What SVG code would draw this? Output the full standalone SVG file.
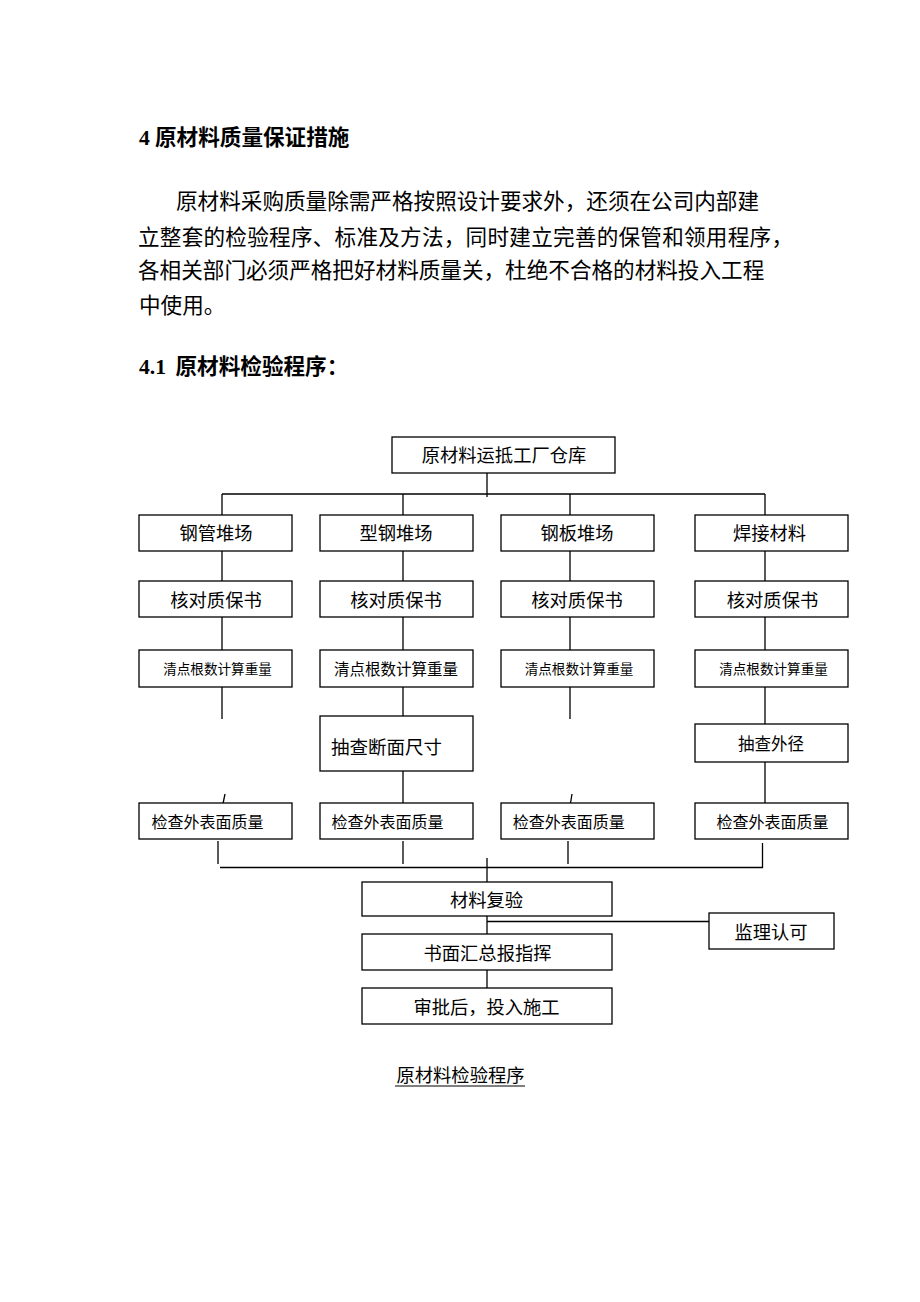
<svg xmlns="http://www.w3.org/2000/svg" width="920" height="1302" viewBox="0 0 920 1302">
<style>
  text { font-family: "Liberation Serif", "Noto Sans CJK SC", serif; fill: #000; }
  .cjk { font-family: "Noto Sans CJK SC", "Liberation Serif", serif; }
  .p { font-size: 21.6px; }
  .h { font-size: 21.6px; font-weight: 700; }
  .box { fill: #fff; stroke: #000; stroke-width: 1.3; }
  .t18 { font-size: 18.3px; text-anchor: middle; }
  .t16 { font-size: 16px; text-anchor: middle; }
  .t14 { font-size: 13.6px; text-anchor: middle; }
  .conn line { stroke: #000; stroke-width: 1.3; }
</style>
<rect width="920" height="1302" fill="#fff"/>

<g id="heading">
  <text class="h" x="139" y="144.5">4<tspan class="cjk" x="155">原材料质量保证措施</tspan></text>
</g>
<g id="paragraph">
  <text class="p cjk" x="176" y="209">原材料采购质量除需严格按照设计要求外，还须在公司内部建</text>
  <text class="p cjk" x="138" y="244.5" textLength="655" lengthAdjust="spacing">立整套的检验程序、标准及方法，同时建立完善的保管和领用程序，</text>
  <text class="p cjk" x="138" y="278">各相关部门必须严格把好材料质量关，杜绝不合格的材料投入工程</text>
  <text class="p cjk" x="139" y="313">中使用。</text>
</g>
<g id="subheading">
  <text class="h" x="139" y="373.5">4.1<tspan class="cjk" x="175.5">原材料检验程序：</tspan></text>
</g>

<g id="connectors" class="conn">
  <line x1="487" y1="473" x2="487" y2="497"/>
  <line x1="222" y1="494" x2="765" y2="494"/>
  <line x1="222" y1="494" x2="222" y2="515"/>
  <line x1="403" y1="494" x2="403" y2="515"/>
  <line x1="570" y1="494" x2="570" y2="515"/>
  <line x1="765" y1="494" x2="765" y2="515"/>
  <line x1="222" y1="551" x2="222" y2="581"/>
  <line x1="403" y1="551" x2="403" y2="581"/>
  <line x1="570" y1="551" x2="570" y2="581"/>
  <line x1="765" y1="551" x2="765" y2="581"/>
  <line x1="222" y1="617" x2="222" y2="650"/>
  <line x1="403" y1="617" x2="403" y2="650"/>
  <line x1="570" y1="617" x2="570" y2="650"/>
  <line x1="765" y1="617" x2="765" y2="650"/>
  <line x1="222" y1="687" x2="222" y2="719"/>
  <line x1="403" y1="687" x2="403" y2="716"/>
  <line x1="570" y1="687" x2="570" y2="719"/>
  <line x1="765" y1="687" x2="765" y2="724"/>
  <line x1="403" y1="771" x2="403" y2="803"/>
  <line x1="765" y1="762" x2="765" y2="803"/>
  <line x1="225" y1="794" x2="222.5" y2="806"/>
  <line x1="572" y1="794" x2="570" y2="806"/>
  <line x1="218" y1="841" x2="218" y2="864"/>
  <line x1="403" y1="841" x2="403" y2="864"/>
  <line x1="568" y1="841" x2="568" y2="864"/>
  <line x1="762.5" y1="843" x2="762.5" y2="868"/>
  <line x1="220" y1="867.5" x2="763" y2="867.5"/>
  <line x1="487" y1="858" x2="487" y2="882"/>
  <line x1="487" y1="916" x2="487" y2="934"/>
  <line x1="487" y1="921.5" x2="709" y2="921.5"/>
  <line x1="487" y1="970" x2="487" y2="988"/>
</g>

<g id="n-top"><rect class="box" x="392" y="437" width="223" height="36"/><text class="t18 cjk" x="504" y="461.5">原材料运抵工厂仓库</text></g>

<g id="n-c1r1"><rect class="box" x="139" y="515" width="153" height="36"/><text class="t18 cjk" x="216" y="539.8">钢管堆场</text></g>
<g id="n-c2r1"><rect class="box" x="320" y="515" width="153" height="36"/><text class="t18 cjk" x="396" y="539.8">型钢堆场</text></g>
<g id="n-c3r1"><rect class="box" x="501" y="515" width="153" height="36"/><text class="t18 cjk" x="577" y="539.8">钢板堆场</text></g>
<g id="n-c4r1"><rect class="box" x="695" y="515" width="153" height="36"/><text class="t18 cjk" x="769.5" y="539.8">焊接材料</text></g>

<g id="n-c1r2"><rect class="box" x="139" y="581" width="153" height="36"/><text class="t18 cjk" x="216" y="606.8">核对质保书</text></g>
<g id="n-c2r2"><rect class="box" x="320" y="581" width="153" height="36"/><text class="t18 cjk" x="396" y="606.8">核对质保书</text></g>
<g id="n-c3r2"><rect class="box" x="501" y="581" width="153" height="36"/><text class="t18 cjk" x="577" y="606.8">核对质保书</text></g>
<g id="n-c4r2"><rect class="box" x="695" y="581" width="153" height="36"/><text class="t18 cjk" x="772.5" y="606.8">核对质保书</text></g>

<g id="n-c1r3"><rect class="box" x="139" y="650" width="153" height="37"/><text class="t14 cjk" x="217.5" y="674">清点根数计算重量</text></g>
<g id="n-c2r3"><rect class="box" x="320" y="650" width="153" height="37"/><text class="t14 cjk" x="396" y="674.7" style="font-size:15.5px">清点根数计算重量</text></g>
<g id="n-c3r3"><rect class="box" x="501" y="650" width="153" height="37"/><text class="t14 cjk" x="579" y="674">清点根数计算重量</text></g>
<g id="n-c4r3"><rect class="box" x="695" y="650" width="153" height="37"/><text class="t14 cjk" x="773.5" y="674">清点根数计算重量</text></g>

<g id="n-c2r4"><rect class="box" x="320" y="716" width="153" height="55"/><text class="cjk" x="331" y="754.3" style="font-size:18.5px">抽查断面尺寸</text></g>
<g id="n-c4r4"><rect class="box" x="695" y="724" width="153" height="38"/><text class="t16 cjk" x="771" y="750" style="font-size:16.5px">抽查外径</text></g>

<g id="n-c1r5"><rect class="box" x="139" y="803" width="153" height="36"/><text class="t16 cjk" x="207.5" y="828">检查外表面质量</text></g>
<g id="n-c2r5"><rect class="box" x="320" y="803" width="153" height="36"/><text class="t16 cjk" x="387.5" y="828">检查外表面质量</text></g>
<g id="n-c3r5"><rect class="box" x="501" y="803" width="153" height="36"/><text class="t16 cjk" x="568.7" y="828">检查外表面质量</text></g>
<g id="n-c4r5"><rect class="box" x="695" y="803" width="153" height="36"/><text class="t16 cjk" x="772.5" y="828">检查外表面质量</text></g>

<g id="n-retest"><rect class="box" x="362" y="882" width="250" height="34"/><text class="t18 cjk" x="486.5" y="907">材料复验</text></g>
<g id="n-supervisor"><rect class="box" x="709" y="913" width="125" height="36"/><text class="t18 cjk" x="771" y="938.8">监理认可</text></g>
<g id="n-report"><rect class="box" x="362" y="934" width="250" height="36"/><text class="t18 cjk" x="487.5" y="960.3">书面汇总报指挥</text></g>
<g id="n-approve"><rect class="box" x="362" y="988" width="250" height="36"/><text class="t18 cjk" x="486.5" y="1013.8">审批后，投入施工</text></g>

<g id="caption">
  <text class="t18 cjk" x="460.5" y="1082.3">原材料检验程序</text>
  <line x1="395" y1="1086" x2="525" y2="1086" stroke="#000" stroke-width="1"/>
</g>
</svg>
